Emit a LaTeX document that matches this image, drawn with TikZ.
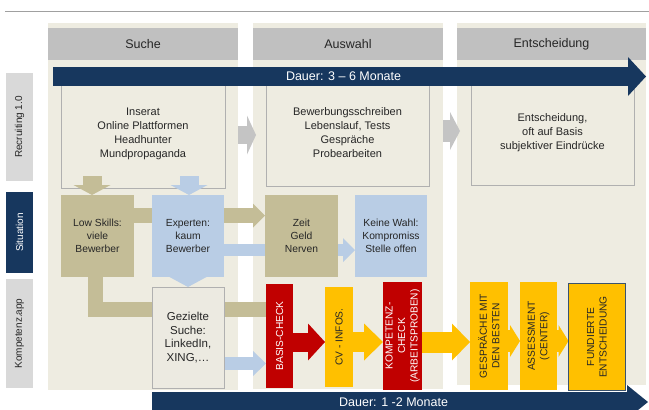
\documentclass[tikz,border=0pt]{standalone}
\usepackage{fontspec}
\setmainfont{Liberation Sans}
\usetikzlibrary{arrows.meta,calc}
\definecolor{bgc}{HTML}{EEECE1}
\definecolor{gbox}{HTML}{ECEAE1}
\definecolor{hdr}{HTML}{C0C0C0}
\definecolor{navy}{HTML}{17375E}
\definecolor{tanc}{HTML}{C4BD97}
\definecolor{lblue}{HTML}{B9CDE5}
\definecolor{redc}{HTML}{C00000}
\definecolor{yel}{HTML}{FFC000}
\definecolor{lgray}{HTML}{D9D9D9}
\definecolor{agray}{HTML}{C4C4C4}
\definecolor{bord}{HTML}{B0B0B0}
\definecolor{fbord}{HTML}{3B536E}
\definecolor{txt}{HTML}{262626}
\definecolor{tline}{HTML}{A0A0A0}
\pgfdeclarelayer{back}
\pgfdeclarelayer{mid}
\pgfsetlayers{back,mid,main}
\begin{document}
\begin{tikzpicture}[x=1pt,y=-1pt,
  rectbox/.style={inner sep=0pt, outer sep=0pt, anchor=north west, align=center, text=txt},
  vbox/.style={inner sep=0pt, outer sep=0pt, rotate=90, align=center, font=\fontsize{10.2}{12.5}\selectfont},
  barrow/.style n args={3}{line width=#1pt, line join=miter, -{Triangle[length=#2pt,width=#3pt,line width=0pt]}},
  rowtxt/.style={font=\fontsize{11}{14}\selectfont},
  sittxt/.style={font=\fontsize{10.3}{13.3}\selectfont},
  hdrtxt/.style={font=\fontsize{12.5}{14}\selectfont},
  labtxt/.style={inner sep=0pt, outer sep=0pt, rotate=90, font=\fontsize{10}{12}\selectfont}
]
\useasboundingbox (0,0) rectangle (649,410);
\draw[tline, line width=0.8pt] (5,11) -- (649,11);

\begin{pgfonlayer}{back}
  % columns
  \node[rectbox, fill=bgc, minimum width=190pt, minimum height=367pt] (col1) at (48,23) {};
  \node[rectbox, fill=bgc, minimum width=190pt, minimum height=366pt] (col2) at (253,23) {};
  \node[rectbox, fill=bgc, minimum width=189pt, minimum height=362pt] (col3) at (457,23) {};
  % headers
  \node[rectbox, fill=hdr, hdrtxt, minimum width=190pt, minimum height=32pt] (h1) at (48,28) {Suche};
  \node[rectbox, fill=hdr, hdrtxt, minimum width=190pt, minimum height=32pt] (h2) at (253,28) {Auswahl};
  \node[rectbox, fill=hdr, hdrtxt, minimum width=189pt, minimum height=32pt] (h3) at (457,28) {Entscheidung};
  % recruiting 1.0 row
  \node[rectbox, draw=bord, fill=bgc, rowtxt, minimum width=164pt, minimum height=108pt] (r1a) at (61,80)
    {Inserat\\Online Plattformen\\Headhunter\\Mundpropaganda};
  \node[rectbox, draw=bord, fill=bgc, rowtxt, minimum width=163pt, minimum height=106pt] (r1b) at (266,80)
    {Bewerbungsschreiben\\Lebenslauf, Tests\\Gespr\"ache\\Probearbeiten};
  \node[rectbox, draw=bord, fill=bgc, rowtxt, minimum width=163pt, minimum height=105pt] (r1c) at (471,80)
    {Entscheidung,\\oft auf Basis\\subjektiver Eindr\"ucke};
\end{pgfonlayer}

% row labels
\node[rectbox, fill=lgray, minimum width=27pt, minimum height=108pt] (lrec) at (6,73) {};
\node[labtxt, text=txt] at (lrec.center) {Recruiting 1.0};
\node[rectbox, fill=navy, minimum width=27pt, minimum height=81pt] (lsit) at (6,192) {};
\node[labtxt, text=white] at (lsit.center) {Situation};
\node[rectbox, fill=lgray, minimum width=27pt, minimum height=109pt] (lkom) at (6,279) {};
\node[labtxt, text=txt] at (lkom.center) {Kompetenz.app};

% situation boxes
\node[rectbox, fill=tanc, sittxt, minimum width=73pt, minimum height=82pt] (low) at (61,195) {Low Skills:\\viele\\Bewerber};
\node[rectbox, fill=lblue, sittxt, minimum width=72pt, minimum height=82pt] (exp) at (152,195) {Experten:\\kaum\\Bewerber};
\node[rectbox, fill=tanc, sittxt, minimum width=73pt, minimum height=82pt] (zeit) at (265,195) {Zeit\\Geld\\Nerven};
\node[rectbox, fill=lblue, sittxt, minimum width=72pt, minimum height=82pt] (wahl) at (355,195) {Keine Wahl:\\Kompromiss\\Stelle offen};

% kompetenz.app row
\node[rectbox, draw=bord, fill=gbox, font=\fontsize{11.5}{13.5}\selectfont, minimum width=72pt, minimum height=101pt] (gez) at (152,287)
  {Gezielte\\Suche:\\LinkedIn,\\XING,\dots};
\node[vbox, fill=redc, text=white, minimum width=104pt, minimum height=27pt] (basis) at (279.5,336) {BASIS-CHECK};
\node[vbox, fill=yel, text=txt, minimum width=100pt, minimum height=28pt] (cv) at (339,337) {CV - INFOS.};
\node[vbox, fill=redc, text=white, minimum width=108pt, minimum height=39pt] (komp) at (402.5,336) {KOMPETENZ-\\CHECK\\(ARBEITSPROBEN)};
\node[vbox, fill=yel, text=txt, minimum width=108pt, minimum height=38pt] (gesp) at (489,336) {GESPR\"ACHE MIT\\DEN BESTEN};
\node[vbox, fill=yel, text=txt, minimum width=108pt, minimum height=37pt] (ass) at (538.5,336) {ASSESSMENT\\(CENTER)};
\node[vbox, fill=yel, draw=fbord, line width=1.2pt, text=txt, minimum width=107pt, minimum height=57pt] (fund) at (597,337) {FUNDIERTE\\ENTSCHEIDUNG};

\begin{pgfonlayer}{mid}
  % column transition arrows
  \draw[agray, barrow={18}{9}{39}] (col1.east |- 0,135) -- (256,135);
  \draw[agray, barrow={22}{10}{38}] (col2.east |- 0,131) -- (460,131);
  % down arrows into situation
  \draw[tanc, barrow={19}{10}{37}] ($(low.north)+(-5.5,-19)$) -- ($(low.north)+(-5.5,0)$);
  \draw[lblue, barrow={19}{10}{37}] ($(exp.north)+(1,-19)$) -- ($(exp.north)+(1,0)$);
  % situation arrows
  \draw[tanc, barrow={15}{12}{24}] (low.east |- 0,215.5) -- (zeit.west |- 0,215.5);
  \draw[lblue, barrow={12}{12}{24}] (exp.east |- 0,250) -- (wahl.west |- 0,250);
  \draw[lblue, barrow={20}{10}{37}] ($(exp.south)+(0,-8)$) -- (gez.north -| exp.south);
  \draw[tanc, barrow={15}{13}{22}] ($(low.south)+(-2,-4)$) |- (basis.south |- 0,309.5);
  \draw[lblue, barrow={13}{13}{25}] (gez.east |- 0,363.5) -- (basis.north |- 0,363.5);
  % kompetenz.app chain
  \draw[redc, barrow={19}{17}{37}] (basis.south |- 0,342) -- (cv.north |- 0,342);
  \draw[yel, barrow={20}{19}{37}] (cv.south |- 0,342) -- (komp.north |- 0,342);
  \draw[yel, barrow={21}{18}{37}] (komp.south |- 0,342) -- (gesp.north |- 0,342);
  \draw[yel, barrow={22}{10}{32}] (gesp.south |- 0,341) -- (ass.north |- 0,341);
  \draw[yel, barrow={22}{10}{32}] (ass.south |- 0,341) -- (fund.north |- 0,341);
\end{pgfonlayer}

% duration arrows
\coordinate (d1s) at (53,76.5);
\coordinate (d1e) at (646,76.5);
\draw[navy, barrow={19}{18}{39}] (d1s) -- (d1e)
  node[pos=0.49, text=white, font=\fontsize{12.5}{14}\selectfont, inner sep=0pt] (dur1) {Dauer: 3 -- 6 Monate};
\coordinate (d2s) at (152,402);
\coordinate (d2e) at (648,402);
\draw[navy, barrow={20}{21}{34}] (d2s) -- (d2e)
  node[pos=0.487, text=white, font=\fontsize{12.5}{14}\selectfont, inner sep=0pt] (dur2) {Dauer: 1 -2 Monate};
\end{tikzpicture}
\end{document}
